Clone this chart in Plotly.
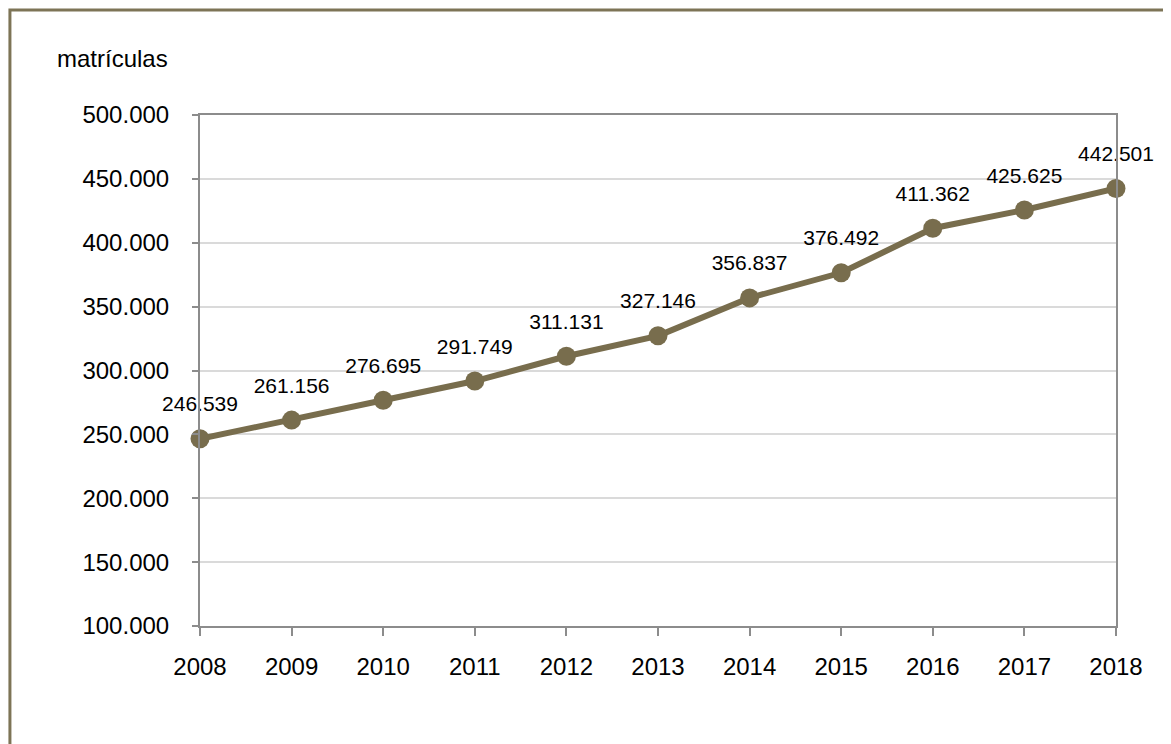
import plotly.graph_objects as go

years = [2008, 2009, 2010, 2011, 2012, 2013, 2014, 2015, 2016, 2017, 2018]
matriculas = [246539, 261156, 276695, 291749, 311131, 327146, 356837, 376492, 411362, 425625, 442501]
y_ticks = [100000, 150000, 200000, 250000, 300000, 350000, 400000, 450000, 500000]
y_title = "matrículas"

LINE = "#786d4d"
FONT = "Liberation Sans, Arial, sans-serif"


def fmt(v):
    return f"{v:,}".replace(",", ".")


fig = go.Figure()
fig.add_trace(go.Scatter(
    x=years, y=matriculas,
    mode="lines+markers",
    line=dict(color=LINE, width=6),
    marker=dict(color=LINE, size=19),
    cliponaxis=False,
    hoverinfo="skip",
    showlegend=False,
))
# data labels (invisible larger markers give the label offset)
fig.add_trace(go.Scatter(
    x=years, y=matriculas,
    mode="markers+text",
    marker=dict(color="rgba(0,0,0,0)", size=34),
    text=[fmt(v) for v in matriculas],
    textposition="top center",
    textfont=dict(family=FONT, size=21, color="#000000"),
    cliponaxis=False,
    hoverinfo="skip",
    showlegend=False,
))

fig.update_layout(
    width=1163, height=736,
    margin=dict(l=192, r=55, t=107, b=118),
    paper_bgcolor="white", plot_bgcolor="white",
    separators=",.",
    font=dict(family=FONT, size=24, color="#000000"),
    xaxis=dict(
        range=[2008, 2018], tickmode="array", tickvals=years,
        ticktext=[str(y) for y in years],
        showgrid=False, zeroline=False,
        showline=True, linecolor="#8c8c8c", linewidth=2, mirror=True,
        ticks="outside", ticklen=8, tickcolor="#8c8c8c", tickwidth=2,
        ticklabelstandoff=10,
        tickfont=dict(family=FONT, size=24),
    ),
    yaxis=dict(
        range=[100000, 500000], tickmode="array", tickvals=y_ticks,
        ticktext=[fmt(v) for v in y_ticks],
        showgrid=True, gridcolor="#dadada", gridwidth=1.5, zeroline=False,
        showline=True, linecolor="#8c8c8c", linewidth=2, mirror=True,
        ticks="outside", ticklen=6, tickcolor="#8c8c8c", tickwidth=2,
        ticklabelstandoff=18,
        tickfont=dict(family=FONT, size=24),
    ),
    annotations=[dict(
        text=y_title, xref="paper", yref="paper",
        x=-0.158, y=1.1115, xanchor="left", yanchor="middle",
        showarrow=False, font=dict(family=FONT, size=24, color="#000000"),
    )],
    shapes=[dict(
        type="rect", xref="paper", yref="paper",
        x0=-0.2075, x1=1.08, y0=-0.27, y1=1.2055,
        line=dict(color="#7d7456", width=3), fillcolor="rgba(0,0,0,0)",
        layer="below",
    )],
)

fig.write_html("out.html")
